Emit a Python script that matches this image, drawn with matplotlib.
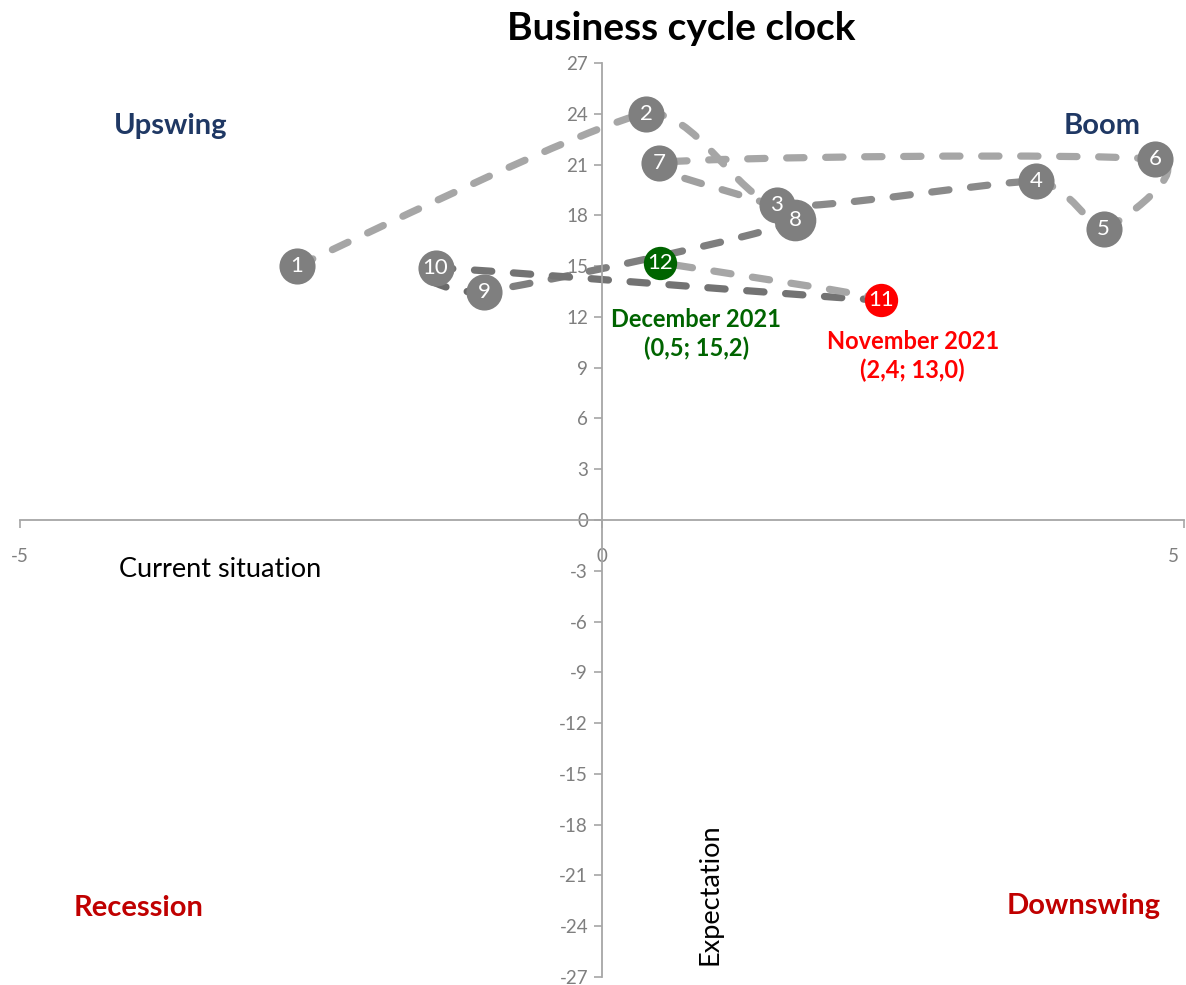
import matplotlib
matplotlib.use("Agg")
import matplotlib.pyplot as plt
import numpy as np
from matplotlib.path import Path
from matplotlib.patches import PathPatch

plt.rcParams['font.family'] = ['Lato', 'DejaVu Sans']
plt.rcParams['axes.unicode_minus'] = False

# months 1..12: current situation (x) and expectation (y)
months = ['1', '2', '3', '4', '5', '6', '7', '8', '9', '10', '11', '12']
current = [-2.62, 0.38, 1.50, 3.73, 4.31, 4.75, 0.49, 1.66, -1.01, -1.43, 2.4, 0.5]
expect = [15.0, 24.0, 18.6, 20.0, 17.2, 21.3, 21.1, 17.7, 13.5, 14.9, 13.0, 15.2]

yticks = list(range(-27, 28, 3))
xticks = [-5, 0, 5]

# styling
seg_colors = ['#a6a6a6', '#a6a6a6', '#8a8a8a', '#a6a6a6', '#a6a6a6', '#a6a6a6',
              '#a0a0a0', '#7f7f7f', '#6a6a6a', '#737373', '#a6a6a6']
marker_colors = ['#7f7f7f'] * 10 + ['#ff0000', '#006400']
marker_sizes = [26, 26, 26, 26, 26, 26, 26, 30, 26, 26, 24, 24]

fig = plt.figure(figsize=(11.86, 9.85), dpi=100)
ax = fig.add_axes([20 / 1186, 8 / 985, 1164 / 1186, 914 / 985])
ax.set_xlim(-5, 5)
ax.set_ylim(-27, 27)

# smoothed dashed segments (cubic Bezier through the points)
pts = np.column_stack([current, expect])
n = len(pts)
k = 1 / 10
for i in range(n - 1):
    p0 = pts[max(i - 1, 0)]
    p1 = pts[i]
    p2 = pts[i + 1]
    p3 = pts[min(i + 2, n - 1)]
    c1 = p1 + (p2 - p0) * k
    c2 = p2 - (p3 - p1) * k
    path = Path([p1, c1, c2, p2], [Path.MOVETO, Path.CURVE4, Path.CURVE4, Path.CURVE4])
    patch = PathPatch(path, facecolor='none', edgecolor=seg_colors[i], lw=5.2,
                      linestyle=(0, (2.4, 3.0)), capstyle='round', zorder=2)
    ax.add_patch(patch)

for i in range(n):
    ax.plot(current[i], expect[i], 'o', ms=marker_sizes[i], color=marker_colors[i],
            mec='none', zorder=3)
    ax.text(current[i], expect[i], months[i], color='white', fontsize=16,
            ha='center', va='center', zorder=4)

# axes through origin
for s in ['top', 'right']:
    ax.spines[s].set_visible(False)
ax.spines['left'].set_position(('data', 0))
ax.spines['bottom'].set_position(('data', 0))
for s in ['left', 'bottom']:
    ax.spines[s].set_color('#a6a6a6')
    ax.spines[s].set_linewidth(1.3)

ax.set_yticks(yticks)
ax.set_xticks(xticks)
ax.set_xticklabels(['-5', '0', '5 '])
ax.tick_params(axis='y', colors='#a6a6a6', labelcolor='#7f7f7f', labelsize=13.5,
               length=6, width=1.2, direction='out', pad=4)
ax.tick_params(axis='x', colors='#a6a6a6', labelcolor='#7f7f7f', labelsize=13.5,
               length=6, width=1.2, direction='out', pad=14)
ax.get_xticklabels()[-1].set_horizontalalignment('right')

fig.text(681 / 1186, 1 - 28 / 985, 'Business cycle clock', ha='center', va='center',
         fontsize=28, fontweight='bold')

ax.text(-3.71, 23.3, 'Upswing', color='#1f3864', fontsize=21, fontweight='bold',
        ha='center', va='center')
ax.text(4.3, 23.3, 'Boom', color='#1f3864', fontsize=21, fontweight='bold',
        ha='center', va='center')
ax.text(-3.98, -22.9, 'Recession', color='#c00000', fontsize=21, fontweight='bold',
        ha='center', va='center')
ax.text(4.14, -22.8, 'Downswing', color='#c00000', fontsize=21, fontweight='bold',
        ha='center', va='center')

ax.text(-3.28, -2.95, 'Current situation', fontsize=19.5, ha='center', va='center')
ax.text(0.93, -22.1, 'Expectation', fontsize=19.5, ha='center', va='center', rotation=90)

ax.text(0.81, 11.0, 'December 2021\n(0,5; 15,2)', color='#006400', fontsize=17,
        fontweight='bold', ha='center', va='center', linespacing=1.3)
ax.text(2.67, 9.7, 'November 2021\n(2,4; 13,0)', color='#ff0000', fontsize=17,
        fontweight='bold', ha='center', va='center', linespacing=1.3)

fig.savefig('out.png', dpi=100)
